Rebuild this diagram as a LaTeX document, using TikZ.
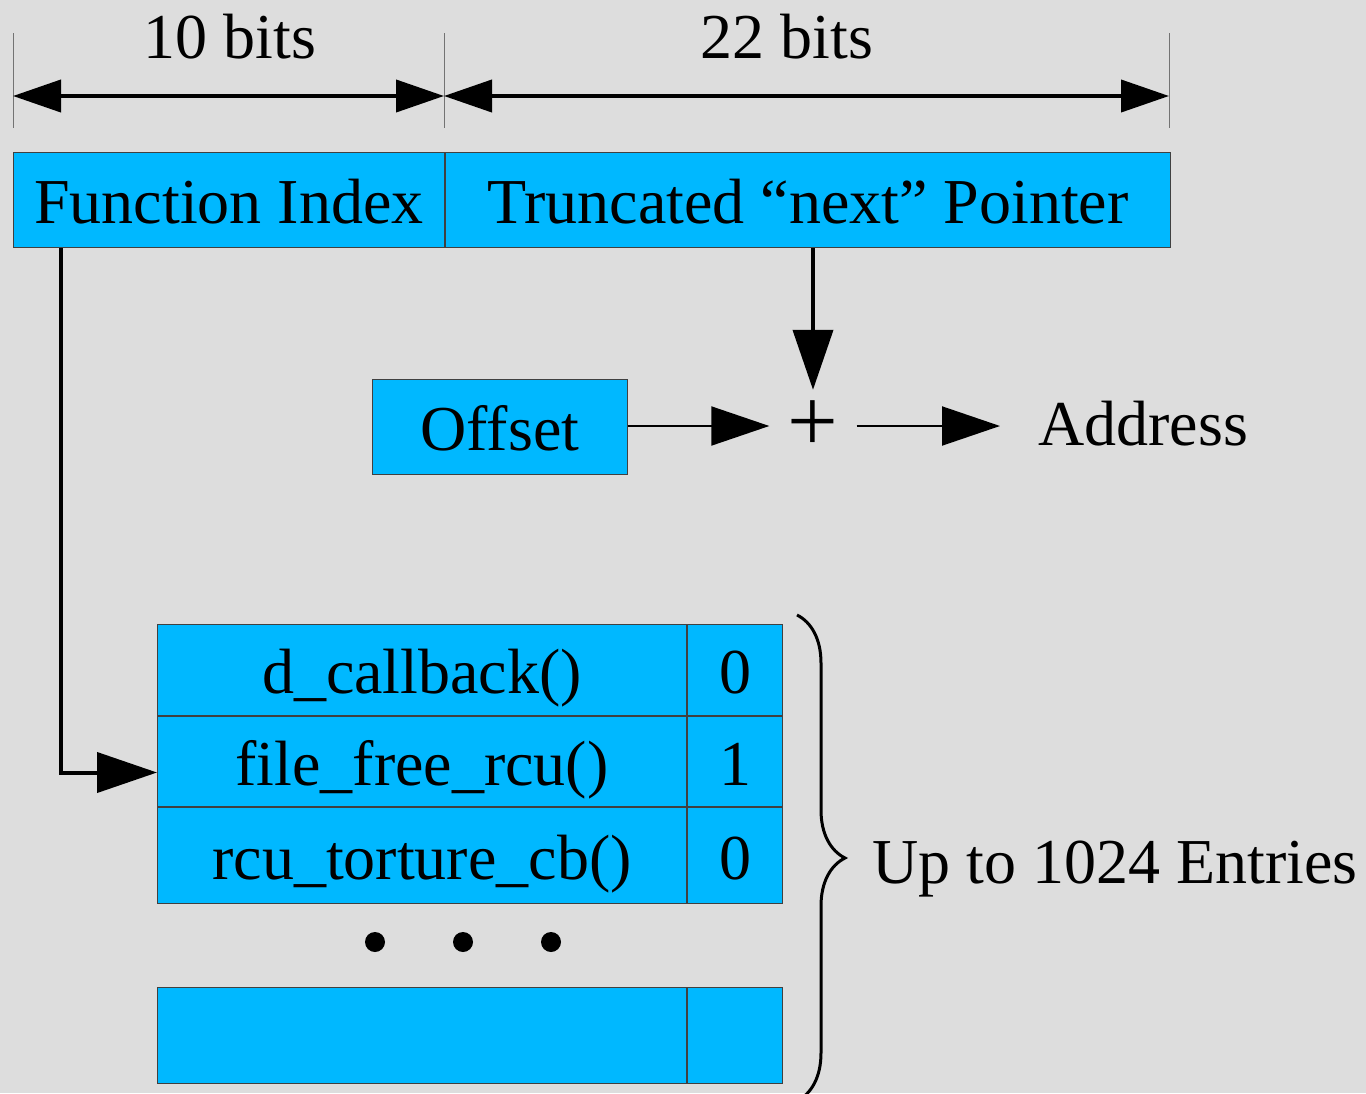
\documentclass[tikz,border=0pt]{standalone}
\usepackage{fontspec}
\setmainfont{Liberation Serif}
\usepackage{tikz}
\usetikzlibrary{calc, positioning, arrows.meta, decorations.pathreplacing}

\definecolor{bggray}{HTML}{DDDDDD}
\definecolor{cellblue}{HTML}{00B8FF}

\begin{document}
\begin{tikzpicture}[x=1pt, y=-1pt,
	font=\rmfamily\fontsize{64}{70}\selectfont,
	cell/.style={draw=black!75, line width=1pt, fill=cellblue, inner sep=0pt,
		text height=47pt, text depth=0pt, anchor=north west},
	namecol/.style={minimum width=529pt},
	flagcol/.style={minimum width=95pt},
	dimline/.style={line width=4pt, {Triangle[length=48pt,width=32pt]}-{Triangle[length=48pt,width=32pt]}},
	dimtick/.style={draw=black!55, line width=1pt},
	conn/.style={line width=4pt, -{Triangle[length=60pt,width=40pt]}},
	thinconn/.style={line width=2pt, -{Triangle[length=58pt,width=39pt]}},
	dotmark/.style={circle, fill=black, inner sep=0pt, minimum size=20pt}]

\useasboundingbox[fill=bggray] (0,0) rectangle (1366,1093);

% bit widths
\coordinate (w0) at (13,33);
\coordinate (w1) at (444,33);
\coordinate (w2) at (1169,33);
\foreach \w in {w0,w1,w2}
	\draw[dimtick] (\w) -- ++(0,95);
\draw[dimline] ($(w0)+(0,63)$) -- ($(w1)+(0,63)$);
\draw[dimline] ($(w1)+(0,63)$) -- ($(w2)+(0,63)$);
\node[anchor=base] (bits10) at (230,58) {10 bits};
\node[anchor=base] (bits22) at (787,58) {22 bits};

% packed word
\node[cell, minimum width=431pt, minimum height=95pt] (fidx) at (13,152) {Function Index};
\node[cell, minimum width=725pt, minimum height=95pt] (nptr) at (fidx.north east) {Truncated “next” Pointer};

% address computation
\node[cell, minimum width=255pt, minimum height=95pt] (offset) at (372,379) {Offset};
\node[minimum width=87pt, minimum height=72pt, inner sep=0pt,
	font=\rmfamily\fontsize{90}{90}\selectfont] (plus) at (813,426) {\raisebox{-5pt}{+}};
\node[anchor=base west, inner sep=0pt] (addr) at (1038,445) {Address};

\draw[conn] (nptr.south -| plus.north) -- (plus.north);
\draw[thinconn] (offset.east |- plus.west) -- (plus.west);
\draw[thinconn] (plus.east) -- ([xshift=-38pt]plus.east -| addr.west);

% function table
\node[cell, namecol, minimum height=91pt] (f1) at (157,624) {d\_callback()};
\node[cell, namecol, minimum height=90pt] (f2) at (f1.south west) {file\_free\_rcu()};
\node[cell, namecol, minimum height=96pt] (f3) at (f2.south west) {rcu\_torture\_cb()};
\node[cell, flagcol, minimum height=91pt] (b1) at (f1.north east) {0};
\node[cell, flagcol, minimum height=90pt] (b2) at (f2.north east) {1};
\node[cell, flagcol, minimum height=96pt] (b3) at (f3.north east) {0};

\foreach \x/\n in {375/1, 463/2, 551/3}
	\node[dotmark] (dot\n) at (\x,942) {};

\node[cell, namecol, minimum height=96pt] (f4) at (157,987) {};
\node[cell, flagcol, minimum height=96pt] (b4) at (f4.north east) {};

\draw[conn] ([xshift=48pt]fidx.south west) |- ([yshift=-11pt]f2.west);

% table size
\draw[line width=3pt, decorate, decoration={brace, amplitude=48pt}] (797,615) -- (797,1101);
\node[anchor=base west, inner sep=0pt] (entries) at (872,883) {Up to 1024 Entries};

\end{tikzpicture}
\end{document}
